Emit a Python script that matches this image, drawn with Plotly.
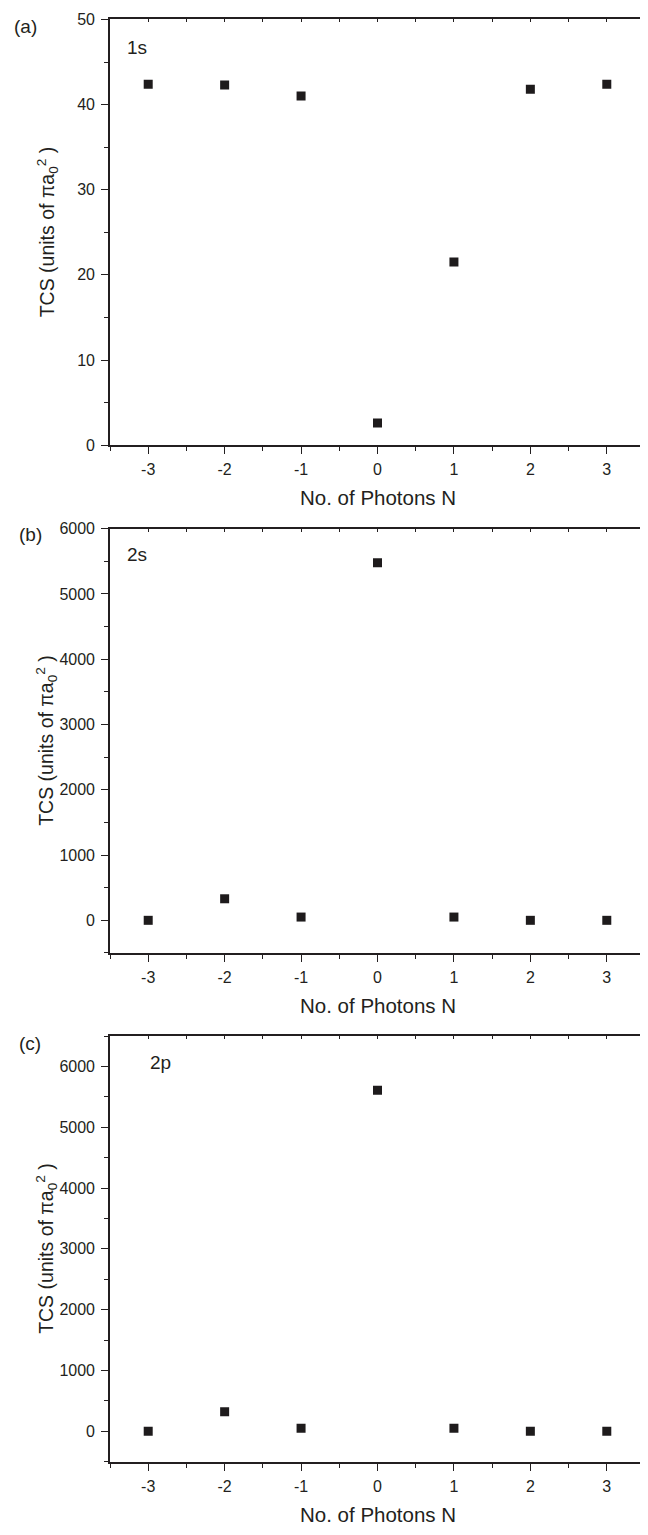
import plotly.graph_objects as go

# ---- data ----
photons = [-3, -2, -1, 0, 1, 2, 3]
photon_tick_text = ["-3", "-2", "-1", "0", "1", "2", "3"]
tcs_1s = [42.4, 42.3, 41.0, 2.6, 21.5, 41.8, 42.4]
tcs_2s = [0, 330, 50, 5480, 50, 0, 0]
tcs_2p = [0, 320, 50, 5610, 50, 0, 0]
state_labels = ["1s", "2s", "2p"]
panel_labels = ["(a)", "(b)", "(c)"]
x_title = "No. of Photons N"
y_title = "TCS (units of πa<sub>0</sub><sup>2</sup> )"

# page body has an 8px default margin, so the figure is drawn 8px in/down
OFF = 8
W, H = 640, 1527
FONT = "Liberation Sans, Arial, sans-serif"
INK = "#231f20"

def px(x):
    return (x - OFF) / W

def py(y):
    return 1 - (y - OFF) / H

# panel geometry in page pixels (top, bottom)
x_left, x_right = 110, 645
panels = [
    dict(top=11.5, bottom=442, yr=[0, 50], dt=10, mdt=5, data=tcs_1s),
    dict(top=526.5, bottom=955.5, yr=[-500, 6000], dt=1000, mdt=500, data=tcs_2s),
    dict(top=1039.5, bottom=1470, yr=[-500, 6500], dt=1000, mdt=500, data=tcs_2p),
]

fig = go.Figure()
layout = dict(
    width=W, height=H,
    margin=dict(l=0, r=0, t=0, b=0),
    paper_bgcolor="white", plot_bgcolor="white",
    showlegend=False,
    font=dict(family=FONT, color=INK, size=16),
)
annotations = []

for i, p in enumerate(panels):
    n = i + 1
    sfx = "" if n == 1 else str(n)
    xdom = [px(x_left), min(1.0, px(x_right))]
    ydom = [py(p["bottom"]), min(1.0, py(p["top"]))]
    layout["xaxis" + sfx] = dict(
        domain=xdom, range=[-3.5, 3.5], anchor="y" + sfx,
        tickmode="array", tickvals=photons, ticktext=photon_tick_text,
        ticks="outside", ticklen=7, tickwidth=1.3, tickcolor=INK,
        minor=dict(dtick=0.5, tick0=0, ticks="outside", ticklen=4, tickwidth=1.3, tickcolor=INK),
        showline=True, linewidth=1.6, linecolor=INK, mirror=True,
        showgrid=False, zeroline=False,
        tickfont=dict(family=FONT, size=16, color=INK),
        ticklabelstandoff=2,
    )
    layout["yaxis" + sfx] = dict(
        domain=ydom, range=p["yr"], anchor="x" + sfx,
        tickmode="linear", tick0=0, dtick=p["dt"],
        ticks="outside", ticklen=7, tickwidth=1.3, tickcolor=INK,
        minor=dict(dtick=p["mdt"], tick0=0, ticks="outside", ticklen=4, tickwidth=1.3, tickcolor=INK),
        showline=True, linewidth=1.6, linecolor=INK, mirror=True,
        showgrid=False, zeroline=False,
        tickfont=dict(family=FONT, size=16, color=INK),
        ticklabelstandoff=3,
    )
    # overlay axes for small inward ticks on top / right
    ox = str(n + 3)
    layout["xaxis" + ox] = dict(
        overlaying="x" + sfx, side="top", anchor="y" + sfx, range=[-3.5, 3.5],
        tickmode="linear", tick0=0, dtick=0.5, ticks="inside", ticklen=3,
        tickwidth=1, tickcolor=INK, showticklabels=False, showline=False,
        showgrid=False, zeroline=False,
    )
    layout["yaxis" + ox] = dict(
        overlaying="y" + sfx, side="right", anchor="x" + sfx, range=p["yr"],
        tickmode="linear", tick0=0, dtick=p["mdt"], ticks="inside", ticklen=3,
        tickwidth=1, tickcolor=INK, showticklabels=False, showline=False,
        showgrid=False, zeroline=False,
    )
    fig.add_trace(go.Scatter(
        x=photons, y=p["data"], mode="markers",
        marker=dict(symbol="square", size=9, color="#1e1b1c", line=dict(width=0)),
        xaxis="x" + sfx, yaxis="y" + sfx, hoverinfo="skip",
    ))
    fig.add_trace(go.Scatter(
        x=[None], y=[None], mode="markers", xaxis="x" + ox, yaxis="y" + ox,
        hoverinfo="skip", showlegend=False,
    ))
    # x-axis title
    annotations.append(dict(
        text=x_title, x=px((x_left + x_right) / 2), y=py(p["bottom"] + 53),
        xref="paper", yref="paper", xanchor="center", yanchor="middle",
        showarrow=False, font=dict(family=FONT, size=20.5, color=INK),
    ))
    # y-axis title
    annotations.append(dict(
        text=y_title, x=px(47), y=py((p["top"] + p["bottom"]) / 2),
        xref="paper", yref="paper", xanchor="center", yanchor="middle",
        textangle=-90, showarrow=False, font=dict(family=FONT, size=19.5, color=INK),
    ))

# panel letters and state labels
letter_pos = [(25, 19), (30, 532), (30, 1047)]
state_pos = [(137, 40), (137, 553), (160, 1066)]
for lab, (lx, ly) in zip(panel_labels, letter_pos):
    annotations.append(dict(
        text=lab, x=px(lx), y=py(ly), xref="paper", yref="paper",
        xanchor="center", yanchor="middle", showarrow=False,
        font=dict(family=FONT, size=19, color=INK),
    ))
for lab, (lx, ly) in zip(state_labels, state_pos):
    annotations.append(dict(
        text=lab, x=px(lx), y=py(ly), xref="paper", yref="paper",
        xanchor="center", yanchor="middle", showarrow=False,
        font=dict(family=FONT, size=19, color=INK),
    ))

layout["annotations"] = annotations
fig.update_layout(**layout)
fig.write_html("out.html")
